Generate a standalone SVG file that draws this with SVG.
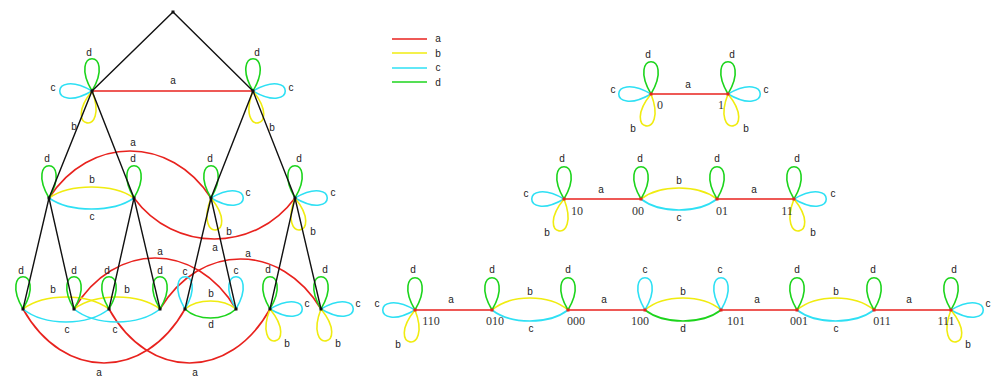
<svg xmlns="http://www.w3.org/2000/svg" xmlns:xlink="http://www.w3.org/1999/xlink" width="994" height="377" viewBox="0 0 994 377">
<style>
.e{fill:none;stroke-width:1.6}
.ra{stroke:#e8221e}.yb{stroke:#f0ec10}.cc{stroke:#2ee0f4}.gd{stroke:#1cd41c}
.k{stroke:#111;stroke-width:1.4;fill:none}
.t{font-family:"Liberation Sans",Arial,sans-serif;font-size:10px;fill:#222;text-anchor:middle}
.n{font-family:"Liberation Serif","Times New Roman",serif;font-size:12px;fill:#333;text-anchor:middle}
.kn{fill:#111}.rn{fill:#e8221e}
</style>
<defs>
<path id="lu" d="M0 0c25 -43 -25 -43 0 0" fill="none"/>
<path id="ll" d="M0 0c-43 -25 -43 25 0 0" fill="none"/>
<path id="lr" d="M0 0c43 25 43 -25 0 0" fill="none"/>
<path id="lbl" d="M0 0c-31.4 38.6 18 46.4 0 0" fill="none"/>
<path id="lbr" d="M0 0c-18 46.4 31.4 38.6 0 0" fill="none"/>
</defs>
<rect width="994" height="377" fill="#fff"/>

<g id="legend">
<line x1="392" y1="39" x2="427" y2="39" class="e ra"/>
<line x1="392" y1="53" x2="427" y2="53" class="e yb"/>
<line x1="392" y1="68" x2="427" y2="68" class="e cc"/>
<line x1="392" y1="82" x2="427" y2="82" class="e gd"/>
<text x="438" y="42" class="t">a</text>
<text x="438" y="56.5" class="t">b</text>
<text x="438" y="71" class="t">c</text>
<text x="438" y="85.5" class="t">d</text>
</g>

<g id="connectors">
<!-- tree level 1 -->
<line x1="92" y1="91" x2="253" y2="91" class="e ra"/>
<use href="#lu" x="92" y="91" class="e gd"/>
<use href="#ll" x="92" y="91" class="e cc"/>
<use href="#lbl" x="92" y="91" class="e yb"/>
<use href="#lu" x="253" y="91" class="e gd"/>
<use href="#lr" x="253" y="91" class="e cc"/>
<use href="#lbr" x="253" y="91" class="e yb"/>
<!-- tree level 2 -->
<path d="M49 198C89.5 135.3 170.5 135.3 211 198" class="e ra"/>
<path d="M134 198C174.25 252.7 254.75 252.7 295 198" class="e ra"/>
<path d="M49 198C70.25 183.3 112.75 183.3 134 198" class="e yb"/>
<path d="M49 198C70.25 212.7 112.75 212.7 134 198" class="e cc"/>
<use href="#lu" x="49" y="198" class="e gd"/>
<use href="#lu" x="134" y="198" class="e gd"/>
<use href="#lu" x="211" y="198" class="e gd"/>
<use href="#lr" x="211" y="198" class="e cc"/>
<use href="#lbr" x="211" y="198" class="e yb"/>
<use href="#lu" x="295" y="198" class="e gd"/>
<use href="#lr" x="295" y="198" class="e cc"/>
<use href="#lbr" x="295" y="198" class="e yb"/>
<!-- tree level 3 -->
<path d="M23 309C63.5 381 144.5 381 185 309" class="e ra"/>
<path d="M109 309C149.25 381 229.75 381 270 309" class="e ra"/>
<path d="M74 309C114.5 241 195.5 241 236 309" class="e ra"/>
<path d="M160 309C200.25 242.3 280.75 242.3 321 309" class="e ra"/>
<path d="M23 309C44.5 293 87.5 293 109 309" class="e yb"/>
<path d="M23 309C44.5 326.3 87.5 326.3 109 309" class="e cc"/>
<path d="M74 309C95.5 293 138.5 293 160 309" class="e yb"/>
<path d="M74 309C95.5 326.3 138.5 326.3 160 309" class="e cc"/>
<path d="M185 309C197.75 298.3 223.25 298.3 236 309" class="e yb"/>
<path d="M185 309C197.75 321 223.25 321 236 309" class="e gd"/>
<use href="#lu" x="23" y="309" class="e gd"/>
<use href="#lu" x="74" y="309" class="e gd"/>
<use href="#lu" x="109" y="309" class="e gd"/>
<use href="#lu" x="160" y="309" class="e gd"/>
<use href="#lu" x="185" y="309" class="e cc"/>
<use href="#lu" x="236" y="309" class="e cc"/>
<use href="#lu" x="270" y="309" class="e gd"/>
<use href="#lr" x="270" y="309" class="e cc"/>
<use href="#lbr" x="270" y="309" class="e yb"/>
<use href="#lu" x="321" y="309" class="e gd"/>
<use href="#lr" x="321" y="309" class="e cc"/>
<use href="#lbr" x="321" y="309" class="e yb"/>
<!-- tree black edges -->
<path d="M92 91L173 12L253 91M49 198L92 91L134 198M211 198L253 91L295 198M23 309L49 198L74 309M109 309L134 198L160 309M185 309L211 198L236 309M270 309L295 198L321 309" class="k"/>

<!-- graph 1 -->
<line x1="651" y1="94" x2="728" y2="94" class="e ra"/>
<use href="#lu" x="651" y="94" class="e gd"/>
<use href="#ll" x="651" y="94" class="e cc"/>
<use href="#lbl" x="651" y="94" class="e yb"/>
<use href="#lu" x="728" y="94" class="e gd"/>
<use href="#lr" x="728" y="94" class="e cc"/>
<use href="#lbr" x="728" y="94" class="e yb"/>

<!-- graph 2 -->
<line x1="564" y1="199" x2="641" y2="199" class="e ra"/>
<path d="M641 199C660 184.3 698 184.3 717 199" class="e yb"/>
<path d="M641 199C660 213.7 698 213.7 717 199" class="e cc"/>
<line x1="717" y1="199" x2="794" y2="199" class="e ra"/>
<use href="#lu" x="564" y="199" class="e gd"/>
<use href="#ll" x="564" y="199" class="e cc"/>
<use href="#lbl" x="564" y="199" class="e yb"/>
<use href="#lu" x="641" y="199" class="e gd"/>
<use href="#lu" x="717" y="199" class="e gd"/>
<use href="#lu" x="794" y="199" class="e gd"/>
<use href="#lr" x="794" y="199" class="e cc"/>
<use href="#lbr" x="794" y="199" class="e yb"/>

<!-- graph 3 -->
<line x1="415" y1="310" x2="492" y2="310" class="e ra"/>
<path d="M492 310C511 294 549 294 568 310" class="e yb"/>
<path d="M492 310C511 324.7 549 324.7 568 310" class="e cc"/>
<line x1="568" y1="310" x2="645" y2="310" class="e ra"/>
<path d="M645 310C664 294 702 294 721 310" class="e yb"/>
<path d="M645 310C664 324.7 702 324.7 721 310" class="e gd"/>
<line x1="721" y1="310" x2="797" y2="310" class="e ra"/>
<path d="M797 310C816.25 294 854.75 294 874 310" class="e yb"/>
<path d="M797 310C816.25 324.7 854.75 324.7 874 310" class="e cc"/>
<line x1="874" y1="310" x2="951" y2="310" class="e ra"/>
<use href="#lu" x="415" y="310" class="e gd"/>
<use href="#ll" x="415" y="310" class="e cc"/>
<use href="#lbl" x="415" y="310" class="e yb"/>
<use href="#lu" x="492" y="310" class="e gd"/>
<use href="#lu" x="568" y="310" class="e gd"/>
<use href="#lu" x="645" y="310" class="e cc"/>
<use href="#lu" x="721" y="310" class="e cc"/>
<use href="#lu" x="797" y="310" class="e gd"/>
<use href="#lu" x="874" y="310" class="e gd"/>
<use href="#lu" x="951" y="310" class="e gd"/>
<use href="#lr" x="951" y="310" class="e cc"/>
<use href="#lbr" x="951" y="310" class="e yb"/>

<!-- edge labels -->
<g class="t">
<text x="173" y="83.5">a</text>
<text x="89" y="55.5">d</text><text x="53" y="90.5">c</text><text x="74" y="129.5">b</text>
<text x="257" y="55.5">d</text><text x="291" y="90.5">c</text><text x="272" y="130.5">b</text>
<text x="133" y="145.5">a</text>
<text x="47" y="161.5">d</text><text x="133" y="161.5">d</text><text x="210" y="161.5">d</text><text x="299" y="161.5">d</text>
<text x="92" y="182.5">b</text><text x="92" y="219.5">c</text>
<text x="248" y="195.5">c</text><text x="333" y="195.5">c</text>
<text x="229" y="234.5">b</text><text x="313" y="234.5">b</text>
<text x="215" y="250.5">a</text>
<text x="21" y="273.5">d</text><text x="74" y="273.5">d</text><text x="107" y="273.5">d</text><text x="160" y="273.5">d</text>
<text x="185" y="274.5">c</text><text x="236" y="273.5">c</text><text x="268" y="272.5">d</text><text x="325" y="272.5">d</text>
<text x="53" y="292.5">b</text><text x="127" y="292.5">b</text><text x="211" y="296.5">b</text>
<text x="67" y="332.5">c</text><text x="115" y="332.5">c</text><text x="211" y="327.5">d</text>
<text x="287" y="346.5">b</text><text x="338" y="346.5">b</text>
<text x="307" y="306.5">c</text><text x="358" y="306.5">c</text>
<text x="160" y="254.5">a</text><text x="248" y="256.5">a</text>
<text x="99" y="376">a</text><text x="195" y="376">a</text>

<text x="688" y="87.5">a</text>
<text x="648" y="57.5">d</text><text x="732" y="57.5">d</text>
<text x="613" y="92.5">c</text><text x="766" y="92.5">c</text>
<text x="633" y="131.5">b</text><text x="746" y="131.5">b</text>

<text x="601" y="192.5">a</text><text x="679" y="183.5">b</text><text x="679" y="220.5">c</text><text x="754" y="192.5">a</text>
<text x="562" y="161.5">d</text><text x="640" y="161.5">d</text><text x="717" y="161.5">d</text><text x="797" y="161.5">d</text>
<text x="526" y="196.5">c</text><text x="833" y="196.5">c</text>
<text x="547" y="235.5">b</text><text x="813" y="235.5">b</text>

<text x="451" y="302.5">a</text><text x="530" y="294.5">b</text><text x="531" y="331.5">c</text>
<text x="604" y="302.5">a</text><text x="683" y="294.5">b</text><text x="683" y="331.5">d</text>
<text x="757" y="302.5">a</text><text x="836" y="294.5">b</text><text x="836" y="331.5">c</text>
<text x="909" y="302.5">a</text>
<text x="377" y="306.5">c</text><text x="413" y="272.5">d</text><text x="398" y="347.5">b</text>
<text x="492" y="272.5">d</text><text x="568" y="272.5">d</text><text x="645" y="272.5">c</text><text x="720" y="272.5">c</text>
<text x="797" y="272.5">d</text><text x="873" y="272.5">d</text><text x="954" y="272.5">d</text>
<text x="988" y="306.5">c</text><text x="968" y="347.5">b</text>
</g>
</g>

<!-- tree nodes -->
<g id="t-root"><rect x="171.5" y="10.5" width="3" height="3" class="kn"/></g>
<g id="t-L1a"><rect x="90.5" y="89.5" width="3" height="3" class="kn"/></g>
<g id="t-L1b"><rect x="251.5" y="89.5" width="3" height="3" class="kn"/></g>
<g id="t-L2a"><rect x="47.5" y="196.5" width="3" height="3" class="kn"/></g>
<g id="t-L2b"><rect x="132.5" y="196.5" width="3" height="3" class="kn"/></g>
<g id="t-L2c"><rect x="209.5" y="196.5" width="3" height="3" class="kn"/></g>
<g id="t-L2d"><rect x="293.5" y="196.5" width="3" height="3" class="kn"/></g>
<g id="t-L3a"><rect x="21.5" y="307.5" width="3" height="3" class="kn"/></g>
<g id="t-L3b"><rect x="72.5" y="307.5" width="3" height="3" class="kn"/></g>
<g id="t-L3c"><rect x="107.5" y="307.5" width="3" height="3" class="kn"/></g>
<g id="t-L3d"><rect x="158.5" y="307.5" width="3" height="3" class="kn"/></g>
<g id="t-L3e"><rect x="183.5" y="307.5" width="3" height="3" class="kn"/></g>
<g id="t-L3f"><rect x="234.5" y="307.5" width="3" height="3" class="kn"/></g>
<g id="t-L3g"><rect x="268.5" y="307.5" width="3" height="3" class="kn"/></g>
<g id="t-L3h"><rect x="319.5" y="307.5" width="3" height="3" class="kn"/></g>

<!-- right graph nodes -->
<g id="n-0"><rect x="649.5" y="92.5" width="3" height="3" class="rn"/><text x="660" y="109" class="n">0</text></g>
<g id="n-1"><rect x="726.5" y="92.5" width="3" height="3" class="rn"/><text x="721" y="109" class="n">1</text></g>
<g id="n-10"><rect x="562.5" y="197.5" width="3" height="3" class="rn"/><text x="577" y="215" class="n">10</text></g>
<g id="n-00"><rect x="639.5" y="197.5" width="3" height="3" class="rn"/><text x="638" y="215" class="n">00</text></g>
<g id="n-01"><rect x="715.5" y="197.5" width="3" height="3" class="rn"/><text x="722" y="215" class="n">01</text></g>
<g id="n-11"><rect x="792.5" y="197.5" width="3" height="3" class="rn"/><text x="787" y="215" class="n">11</text></g>
<g id="n-110"><rect x="413.5" y="308.5" width="3" height="3" class="rn"/><text x="431" y="325" class="n">110</text></g>
<g id="n-010"><rect x="490.5" y="308.5" width="3" height="3" class="rn"/><text x="495" y="325" class="n">010</text></g>
<g id="n-000"><rect x="566.5" y="308.5" width="3" height="3" class="rn"/><text x="576" y="325" class="n">000</text></g>
<g id="n-100"><rect x="643.5" y="308.5" width="3" height="3" class="rn"/><text x="640" y="325" class="n">100</text></g>
<g id="n-101"><rect x="719.5" y="308.5" width="3" height="3" class="rn"/><text x="736" y="325" class="n">101</text></g>
<g id="n-001"><rect x="795.5" y="308.5" width="3" height="3" class="rn"/><text x="799" y="325" class="n">001</text></g>
<g id="n-011"><rect x="872.5" y="308.5" width="3" height="3" class="rn"/><text x="882" y="325" class="n">011</text></g>
<g id="n-111"><rect x="949.5" y="308.5" width="3" height="3" class="rn"/><text x="946" y="325" class="n">111</text></g>
</svg>
